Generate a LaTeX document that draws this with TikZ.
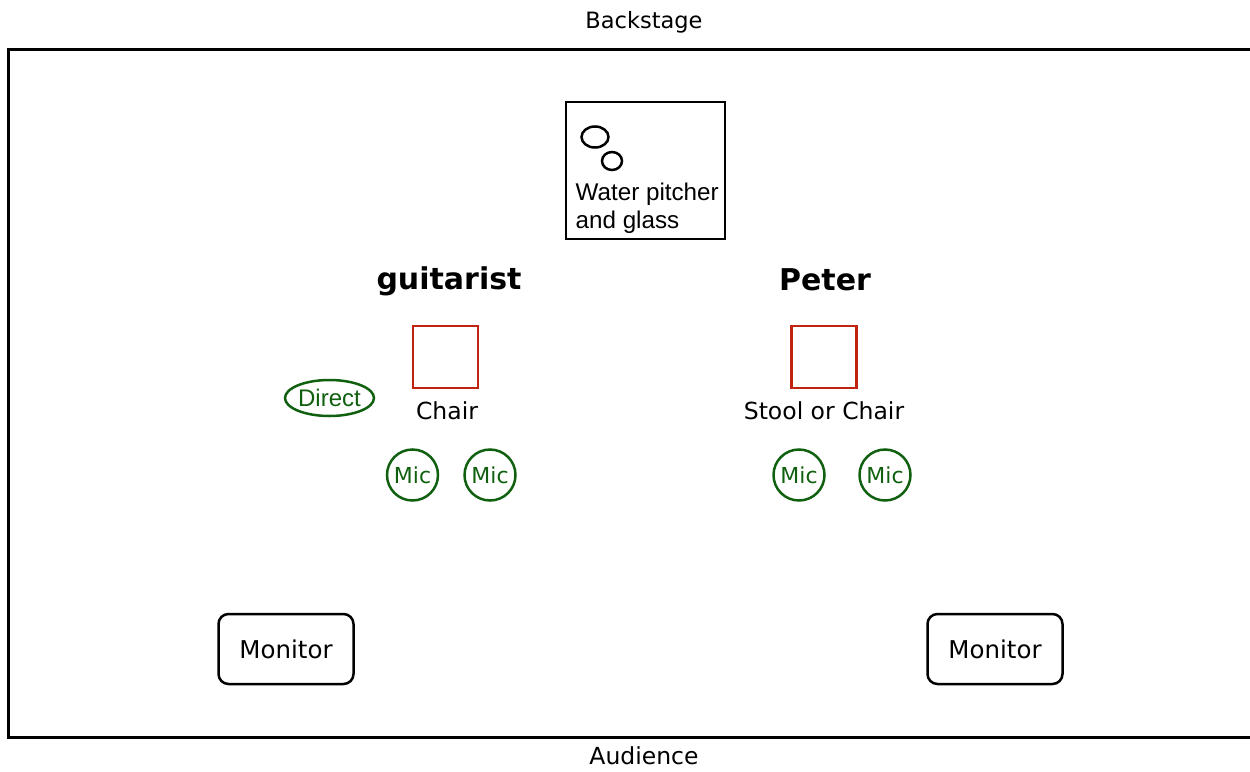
\documentclass[tikz,border=0pt]{standalone}
\usepackage{fontspec}
\setmainfont{DejaVu Sans}
\newfontfamily\helv{Liberation Sans}
\usetikzlibrary{shapes.geometric}
\definecolor{micgreen}{RGB}{16,96,16}
\definecolor{chairred}{RGB}{192,36,16}
\tikzset{
  lbl/.style={inner sep=0pt, anchor=base, font=\fontsize{23.5}{27}\selectfont},
  bigname/.style={inner sep=0pt, anchor=base, font=\fontsize{30}{36}\selectfont\bfseries},
  chairbox/.style={draw=chairred, line width=2.5pt, minimum width=65pt, minimum height=62pt, inner sep=0pt},
  micnode/.style={draw=micgreen, text=micgreen, line width=2.5pt, circle, minimum size=51pt, inner sep=0pt, font=\fontsize{22}{26}\selectfont},
  monitorbox/.style={draw, line width=2.5pt, rounded corners=10pt, minimum width=135pt, minimum height=70pt, inner sep=0pt, font=\fontsize{24.5}{27}\selectfont},
  glassell/.style={draw, line width=2.5pt, ellipse, inner sep=0pt}
}
\begin{document}
\begin{tikzpicture}[x=1pt,y=-1pt]
\useasboundingbox (0,0) rectangle (1250,771);
\clip (0,0) rectangle (1250,771);
\draw[line width=3pt] (8.5,49) rectangle (1265,737);
\node[lbl, font=\fontsize{22.5}{27}\selectfont] (backstage) at (644,28) {Backstage};
\node[lbl] (audience) at (644,764) {Audience};
% water pitcher
\node[draw, line width=2.5pt, minimum width=159pt, minimum height=137pt, inner sep=0pt] (water) at (645.5,170.5) {};
\node[glassell, minimum width=27pt, minimum height=21pt] (pitcher) at (595,137) {};
\node[glassell, minimum width=20pt, minimum height=18pt] (glass) at (612,161) {};
\node[anchor=west, inner sep=0pt, align=left, font=\helv\fontsize{24.2}{28}\selectfont] (watertxt) at (575.5,208) {Water pitcher\\and glass};
% guitarist
\node[bigname] (guitarist) at (449,289) {guitarist};
\node[chairbox] (chair1) at (445.5,357) {};
\node[lbl] (chair1txt) at (447,419) {Chair};
\node[draw=micgreen, text=micgreen, line width=2.5pt, ellipse, minimum width=89pt, minimum height=36pt, inner sep=0pt, font=\helv\fontsize{24}{26}\selectfont] (direct) at (329.5,398) {Direct};
\node[micnode] (mic1) at (412.5,475) {Mic};
\node[micnode] (mic2) at (490,475) {Mic};
% Peter
\node[bigname] (peter) at (825,290) {Peter};
\node[chairbox] (chair2) at (824,357) {};
\node[lbl] (chair2txt) at (824,419) {Stool or Chair};
\node[micnode] (mic3) at (799,475) {Mic};
\node[micnode] (mic4) at (885,475) {Mic};
% monitors
\node[monitorbox] (mon1) at (286,649) {Monitor};
\node[monitorbox] (mon2) at (995,649) {Monitor};
\end{tikzpicture}
\end{document}
